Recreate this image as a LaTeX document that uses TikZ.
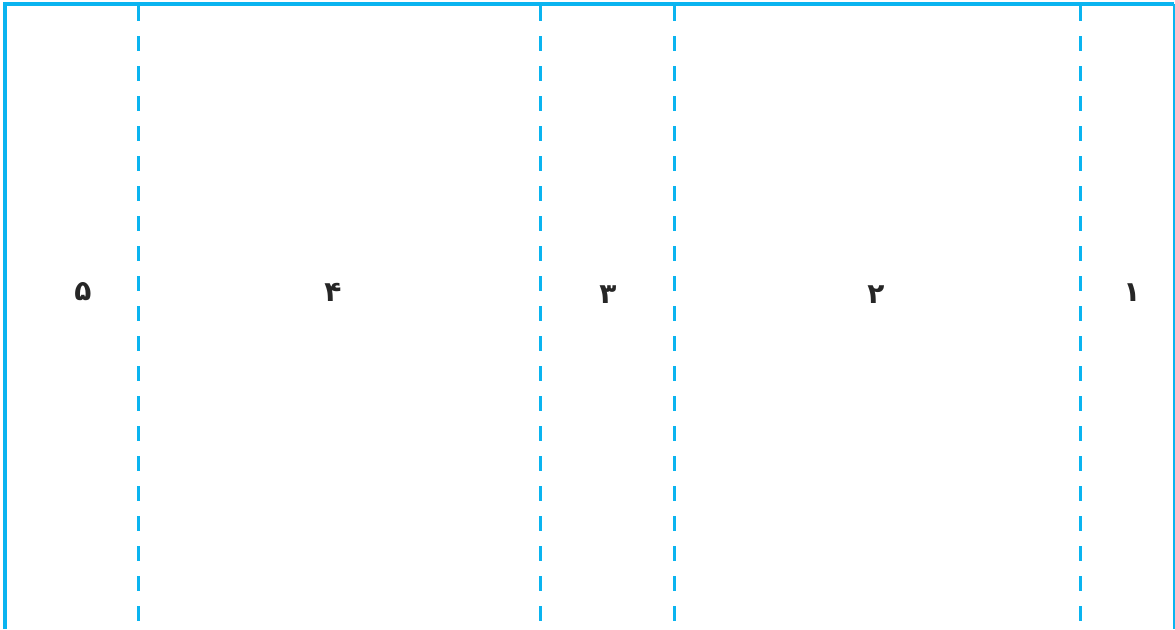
\documentclass[tikz,border=0pt]{standalone}
\usepackage{fontspec}
\newfontfamily\arabicfont[Script=Arabic]{DejaVu Sans}
\definecolor{fold}{RGB}{10,180,240}
\begin{document}
\begin{tikzpicture}[x=1pt,y=-1pt,
  frameline/.style={draw=fold,line width=3.5pt},
  foldline/.style={draw=fold,line width=3pt,dash pattern=on 15pt off 15pt},
  num/.style={font=\arabicfont\bfseries\fontsize{28}{32}\selectfont,text=black!85,inner sep=0pt}]
\useasboundingbox (0,0) rectangle (1175,629);
\coordinate (bl) at (5,629);
\coordinate (tl) at (5,4);
\coordinate (tr) at (1174,4);
\coordinate (br) at (1174,629);
\draw[frameline] (bl) -- (tl) -- (tr);
\draw[draw=fold,line width=2pt] (tr) -- (br);
\foreach \x/\n in {138/a,540/b,674/c,1080/d}{
  \coordinate (\n t) at (\x,6);
  \coordinate (\n b) at (\x,629);
  \draw[foldline] (\n t) -- (\n b);
}
\node[num] (n5) at (83,292) {۵};
\node[num] (n4) at (333,292) {۴};
\node[num] (n3) at (608,295) {۳};
\node[num] (n2) at (876,295) {۲};
\node[num] (n1) at (1132,293) {۱};
\end{tikzpicture}
\end{document}
